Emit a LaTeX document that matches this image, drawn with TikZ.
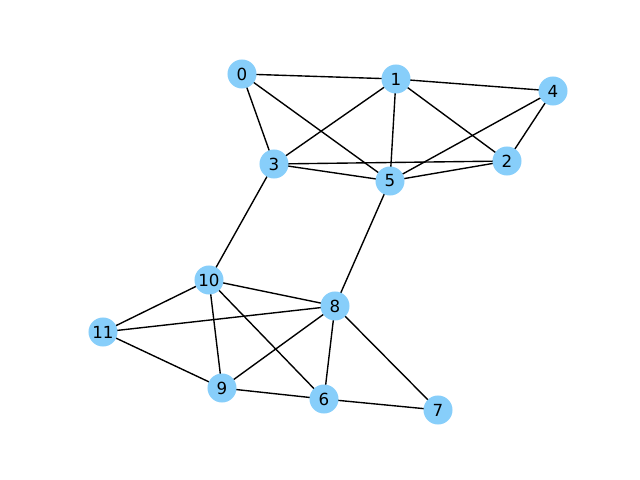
\documentclass[tikz,border=0pt]{standalone}
\usepackage{fontspec}
\setmainfont{DejaVu Sans}
\definecolor{nodeblue}{HTML}{87CEFA}
\tikzset{vertex/.style={circle,fill=nodeblue,minimum size=20.9pt,inner sep=0pt,font=\fontsize{12}{14}\selectfont},
  link/.style={line width=1pt}}
\begin{document}
\begin{tikzpicture}[x=0.72pt,y=-0.72pt]
\useasboundingbox (0,0) rectangle (640,480);
\coordinate (p0) at (242,74);
\coordinate (p1) at (396,79);
\coordinate (p2) at (507,161);
\coordinate (p3) at (274,164);
\coordinate (p4) at (553,91);
\coordinate (p5) at (390,181);
\coordinate (p6) at (324,399);
\coordinate (p7) at (438,410);
\coordinate (p8) at (335,306);
\coordinate (p9) at (222,388);
\coordinate (p10) at (209,280);
\coordinate (p11) at (103,332);

\draw[link] (p0) -- (p1);
\draw[link] (p0) -- (p3);
\draw[link] (p0) -- (p5);
\draw[link] (p1) -- (p4);
\draw[link] (p1) -- (p3);
\draw[link] (p1) -- (p5);
\draw[link] (p1) -- (p2);
\draw[link] (p4) -- (p2);
\draw[link] (p4) -- (p5);
\draw[link] (p3) -- (p2);
\draw[link] (p3) -- (p5);
\draw[link] (p5) -- (p2);
\draw[link] (p3) -- (p10);
\draw[link] (p5) -- (p8);
\draw[link] (p10) -- (p8);
\draw[link] (p10) -- (p11);
\draw[link] (p10) -- (p9);
\draw[link] (p10) -- (p6);
\draw[link] (p11) -- (p8);
\draw[link] (p11) -- (p9);
\draw[link] (p8) -- (p9);
\draw[link] (p8) -- (p6);
\draw[link] (p8) -- (p7);
\draw[link] (p9) -- (p6);
\draw[link] (p6) -- (p7);

\node[vertex] (n0) at (p0) {0};
\node[vertex] (n1) at (p1) {1};
\node[vertex] (n2) at (p2) {2};
\node[vertex] (n3) at (p3) {3};
\node[vertex] (n4) at (p4) {4};
\node[vertex] (n5) at (p5) {5};
\node[vertex] (n6) at (p6) {6};
\node[vertex] (n7) at (p7) {7};
\node[vertex] (n8) at (p8) {8};
\node[vertex] (n9) at (p9) {9};
\node[vertex] (n10) at (p10) {10};
\node[vertex] (n11) at (p11) {11};
\end{tikzpicture}
\end{document}
